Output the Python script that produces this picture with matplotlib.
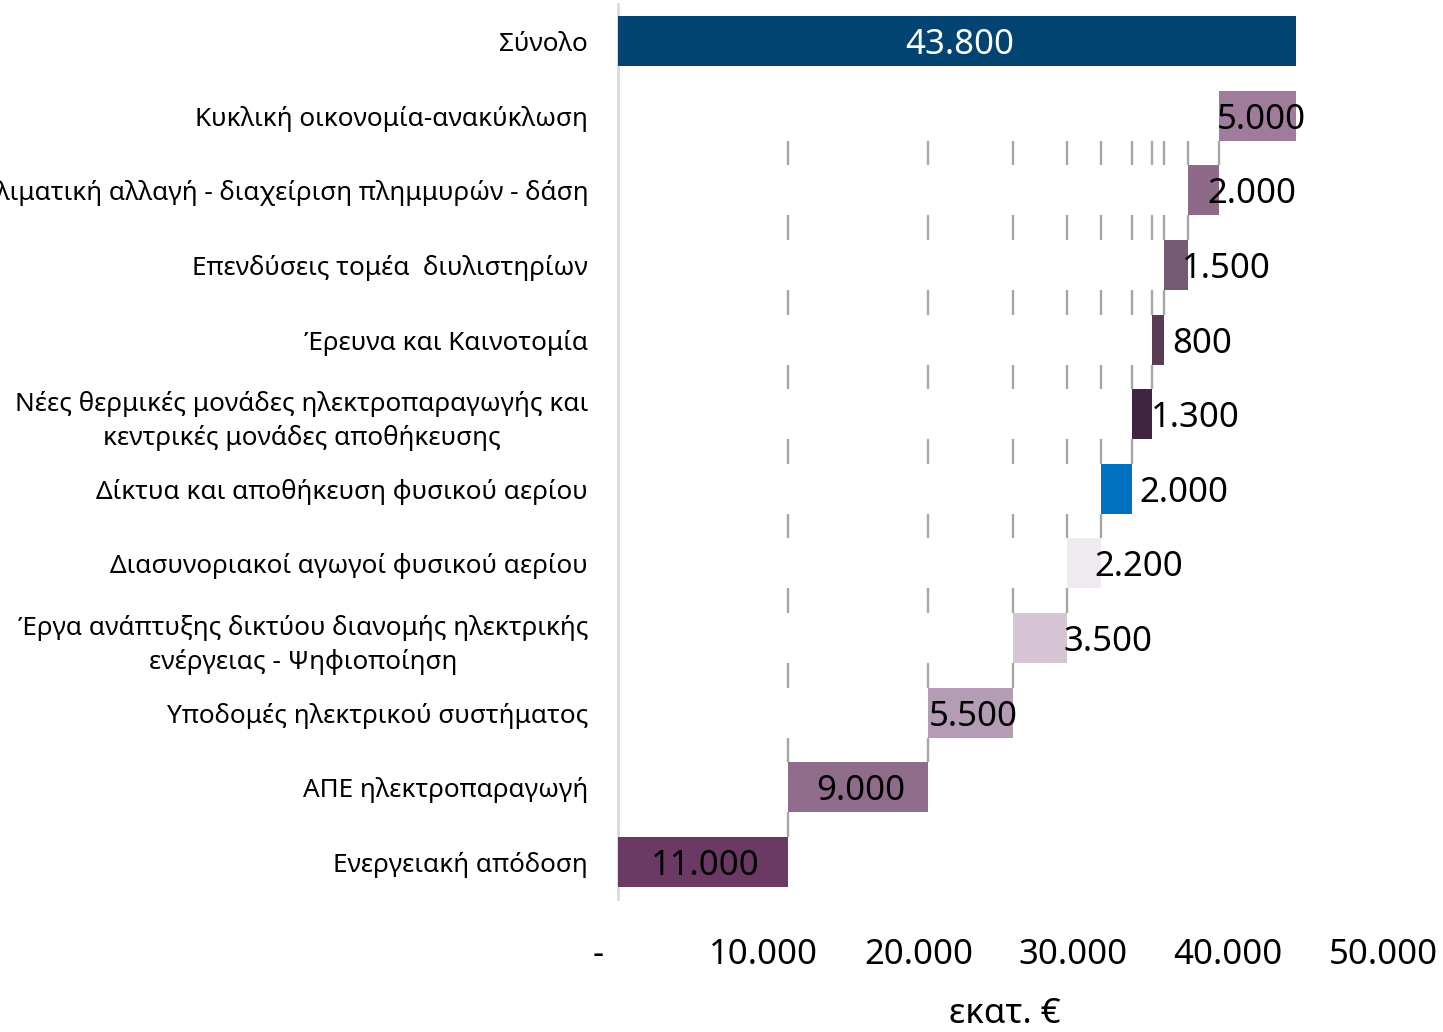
import matplotlib
matplotlib.use("Agg")
import matplotlib.pyplot as plt
from matplotlib.transforms import ScaledTranslation

plt.rcParams['font.family'] = ['Noto Sans', 'DejaVu Sans']

# Data (bottom to top)
categories = [
    "Ενεργειακή απόδοση",
    "ΑΠΕ ηλεκτροπαραγωγή",
    "Υποδομές ηλεκτρικού συστήματος",
    "Έργα ανάπτυξης δικτύου διανομής ηλεκτρικής\nενέργειας - Ψηφιοποίηση",
    "Διασυνοριακοί αγωγοί φυσικού αερίου",
    "Δίκτυα και αποθήκευση φυσικού αερίου",
    "Νέες θερμικές μονάδες ηλεκτροπαραγωγής και\nκεντρικές μονάδες αποθήκευσης",
    "Έρευνα και Καινοτομία",
    "Επενδύσεις τομέα  διυλιστηρίων",
    "Κλιματική αλλαγή - διαχείριση πλημμυρών - δάση",
    "Κυκλική οικονομία-ανακύκλωση",
]
values = [11000, 9000, 5500, 3500, 2200, 2000, 1300, 800, 1500, 2000, 5000]
total_label = "Σύνολο"
total_value = 43800
xticks = [0, 10000, 20000, 30000, 40000, 50000]
xtick_labels = ["-", "10.000", "20.000", "30.000", "40.000", "50.000"]
xlabel = "εκατ. €"

# Styles
colors = ["#6a3a64", "#8e6c8a", "#b49cb4", "#d4c4d4", "#eeeaf0", "#0070c0",
          "#3f2540", "#583d54", "#765a72", "#8e6a88", "#a07c9c"]
total_color = "#024471"
label_dx_px = [33, 28, 1, 51, 27, 38, 19, 20, 17, 20, -2]  # text left edge offset from bar start

def fmt(v):
    return f"{v:,.0f}".replace(",", ".")

W, H = 1443, 1032
dpi = 100
fig = plt.figure(figsize=(W / dpi, H / dpi), dpi=dpi)
ax = fig.add_axes([618 / W, (1032 - 899.3) / H, 774 / W, 895.6 / H])

bh = 0.67
starts = []
cum = 0
for v in values:
    starts.append(cum)
    cum += v
ends = [s + v for s, v in zip(starts, values)]

n = len(values)
ypos = list(range(n))
ax.barh(ypos, values, left=starts, height=bh, color=colors, zorder=3)
ax.barh([n], [total_value], left=[0], height=bh, color=total_color, zorder=3)

# series lines
for k in range(n - 1):
    for j in range(k + 1):
        ax.plot([ends[j], ends[j]], [k + bh / 2, k + 1 - bh / 2],
                color="#a6a6a6", lw=1.7, zorder=2, solid_capstyle='butt')

# value labels
for i, (s, v) in enumerate(zip(starts, values)):
    ax.annotate(fmt(v), xy=(s, i), xytext=(label_dx_px[i], -4),
                textcoords='offset pixels', ha='left', va='center',
                fontsize=25, color='black', zorder=5)
ax.annotate(fmt(total_value), xy=(total_value / 2, n), xytext=(3, -4),
            textcoords='offset pixels', ha='center', va='center',
            fontsize=25, color='white', zorder=5)

ax.set_xlim(0, 50000)
ax.set_ylim(-0.5, n + 0.5)
ax.set_yticks(ypos + [n])
ax.set_yticklabels(categories + [total_label], fontsize=18.8,
                   multialignment='center', linespacing=1.38)
ax.tick_params(axis='y', length=0, pad=21.5)
ax.set_xticks(xticks)
ax.set_xticklabels(xtick_labels, fontsize=25)
ax.tick_params(axis='x', length=0, pad=28)
for lab, t in zip(ax.get_xticklabels(), xticks):
    dx = -20 if t == 0 else -9
    lab.set_transform(lab.get_transform() + ScaledTranslation(dx / dpi, 0, fig.dpi_scale_trans))
ax.set_xlabel(xlabel, fontsize=25, labelpad=18)

for sp in ['top', 'right', 'bottom']:
    ax.spines[sp].set_visible(False)
ax.spines['left'].set_color('#d9d9d9')
ax.spines['left'].set_linewidth(2)

fig.savefig("out.png", dpi=dpi, facecolor='white')
